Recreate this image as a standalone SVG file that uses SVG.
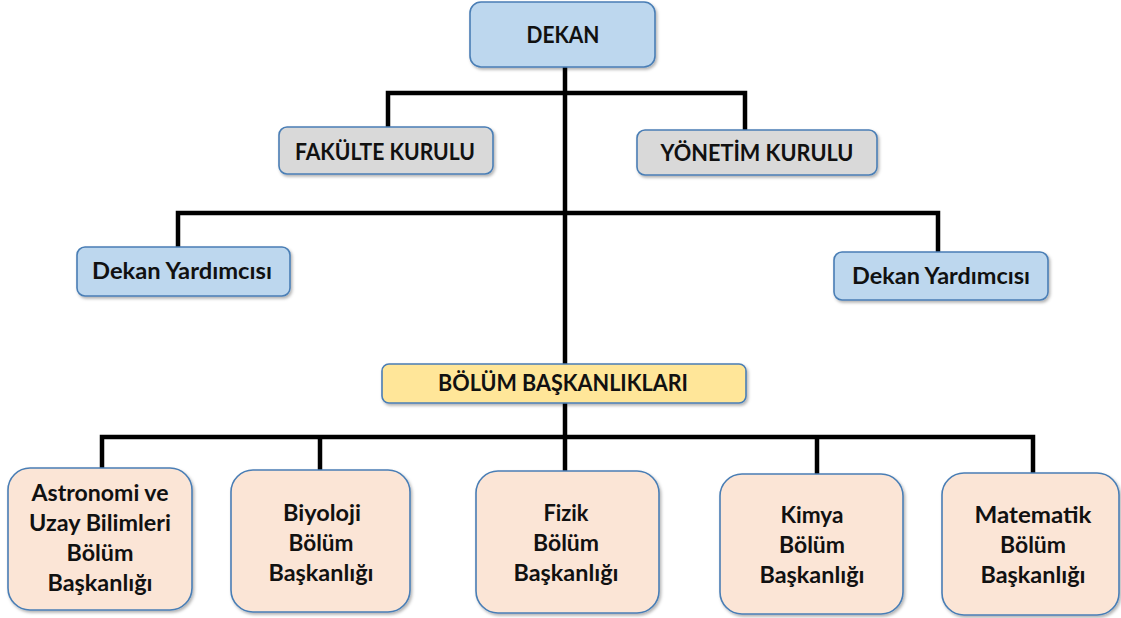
<svg xmlns="http://www.w3.org/2000/svg" width="1121" height="618" viewBox="0 0 1121 618">
<defs>
<filter id="sh" x="-10%" y="-10%" width="130%" height="140%">
<feDropShadow dx="1.5" dy="2" stdDeviation="1.5" flood-color="#000" flood-opacity="0.3"/>
</filter>
<style>
.box{stroke:#4A7EB5;stroke-width:1.6;filter:url(#sh)}
.blue{fill:#BDD7EE}
.gray{fill:#D9D9D9}
.yel{fill:#FFE699}
.peach{fill:#FBE5D6}
.conn{fill:none;stroke:#000;stroke-width:4.5;stroke-linejoin:miter}
text{font-family:Lato,"Liberation Sans",sans-serif;font-weight:bold;fill:#111;text-anchor:middle}
.t1{font-size:23px}
.t2{font-size:22px}
.t3{font-size:23px}
</style>
</defs>
<rect width="1121" height="618" fill="#fff"/>
<g id="connectors">
<path class="conn" d="M565 67 V437"/>
<path class="conn" d="M388 127 V93 H745 V130"/>
<path class="conn" d="M178 247 V213 H938 V252"/>
<path class="conn" d="M102 468 V437 H1033 V473"/>
<path class="conn" d="M320 437 V470"/>
<path class="conn" d="M565 437 V471"/>
<path class="conn" d="M817 437 V474"/>
</g>
<g id="dekan">
<rect class="box blue" x="470" y="2" width="185" height="65" rx="11"/>
<text class="t1" x="563" y="43" textLength="73" lengthAdjust="spacingAndGlyphs">DEKAN</text>
</g>
<g id="fakulte-kurulu">
<rect class="box gray" x="279" y="127" width="214" height="47" rx="8"/>
<text class="t1" x="385" y="160" textLength="180" lengthAdjust="spacingAndGlyphs">FAKÜLTE KURULU</text>
</g>
<g id="yonetim-kurulu">
<rect class="box gray" x="637" y="130" width="240" height="45" rx="8"/>
<text class="t1" x="757" y="161" textLength="193" lengthAdjust="spacingAndGlyphs">YÖNETİM KURULU</text>
</g>
<g id="dekan-yardimcisi-1">
<rect class="box blue" x="77" y="247" width="213" height="49" rx="8"/>
<text class="t2" x="182" y="279" textLength="180" lengthAdjust="spacingAndGlyphs">Dekan Yardımcısı</text>
</g>
<g id="dekan-yardimcisi-2">
<rect class="box blue" x="834" y="252" width="214" height="48" rx="8"/>
<text class="t2" x="941" y="284" textLength="178" lengthAdjust="spacingAndGlyphs">Dekan Yardımcısı</text>
</g>
<g id="bolum-baskanliklari">
<rect class="box yel" x="382" y="364" width="364" height="39" rx="7"/>
<text class="t1" x="563" y="391" textLength="250" lengthAdjust="spacingAndGlyphs">BÖLÜM BAŞKANLIKLARI</text>
</g>
<g id="astronomi">
<rect class="box peach" x="8" y="468" width="184" height="142" rx="22"/>
<text class="t3" x="100" y="501" textLength="137" lengthAdjust="spacingAndGlyphs">Astronomi ve</text>
<text class="t3" x="100" y="531" textLength="142" lengthAdjust="spacingAndGlyphs">Uzay Bilimleri</text>
<text class="t3" x="100" y="561" textLength="67" lengthAdjust="spacingAndGlyphs">Bölüm</text>
<text class="t3" x="100" y="591" textLength="105" lengthAdjust="spacingAndGlyphs">Başkanlığı</text>
</g>
<g id="biyoloji">
<rect class="box peach" x="231" y="470" width="179" height="142" rx="22"/>
<text class="t3" x="322" y="521" textLength="78" lengthAdjust="spacingAndGlyphs">Biyoloji</text>
<text class="t3" x="321" y="551" textLength="65" lengthAdjust="spacingAndGlyphs">Bölüm</text>
<text class="t3" x="321" y="581" textLength="105" lengthAdjust="spacingAndGlyphs">Başkanlığı</text>
</g>
<g id="fizik">
<rect class="box peach" x="476" y="471" width="183" height="142" rx="22"/>
<text class="t3" x="566" y="521" textLength="45" lengthAdjust="spacingAndGlyphs">Fizik</text>
<text class="t3" x="566" y="551" textLength="66" lengthAdjust="spacingAndGlyphs">Bölüm</text>
<text class="t3" x="566" y="581" textLength="105" lengthAdjust="spacingAndGlyphs">Başkanlığı</text>
</g>
<g id="kimya">
<rect class="box peach" x="720" y="474" width="183" height="140" rx="22"/>
<text class="t3" x="812" y="523" textLength="63" lengthAdjust="spacingAndGlyphs">Kimya</text>
<text class="t3" x="812" y="553" textLength="66" lengthAdjust="spacingAndGlyphs">Bölüm</text>
<text class="t3" x="812" y="583" textLength="105" lengthAdjust="spacingAndGlyphs">Başkanlığı</text>
</g>
<g id="matematik">
<rect class="box peach" x="942" y="473" width="177" height="142" rx="22"/>
<text class="t3" x="1033" y="523" textLength="117" lengthAdjust="spacingAndGlyphs">Matematik</text>
<text class="t3" x="1033" y="553" textLength="66" lengthAdjust="spacingAndGlyphs">Bölüm</text>
<text class="t3" x="1033" y="583" textLength="105" lengthAdjust="spacingAndGlyphs">Başkanlığı</text>
</g>
</svg>
